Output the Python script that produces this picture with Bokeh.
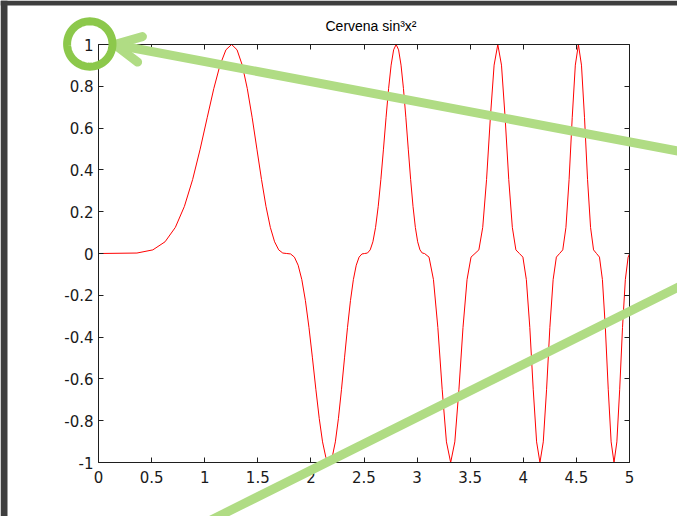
import math
from bokeh.plotting import figure
from bokeh.models import (Range1d, LinearAxis, FixedTicker, Arrow, OpenHead,
                          PolyAnnotation, BoxAnnotation, Label)
from bokeh.embed import file_html
from bokeh.resources import INLINE

# ---- data (curve "Cervena sin^3 x^2") ----
x_vals = [0, 0.3618, 0.5117, 0.6267, 0.7236, 0.8090, 0.8862, 0.9572, 1.0233, 1.0854,
          1.1441, 1.2000, 1.2533, 1.3045, 1.3537, 1.4012, 1.4472, 1.4917, 1.5350, 1.5770,
          1.6180, 1.6580, 1.6970, 1.7351, 1.7725, 1.8090, 1.8448, 1.8800, 1.9145, 1.9483,
          1.9817, 2.0144, 2.0466, 2.0784, 2.1096, 2.1404, 2.1708, 2.2007, 2.2303, 2.2594,
          2.2882, 2.3166, 2.3447, 2.3725, 2.3999, 2.4270, 2.4538, 2.4804, 2.5066, 2.5326,
          2.5583, 2.5838, 2.6090, 2.6339, 2.6587, 2.6832, 2.7075, 2.7315, 2.7554, 2.7790,
          2.8025, 2.8257, 2.8488, 2.8717, 2.8944, 2.9169, 2.9393, 2.9615, 2.9835, 3.0053,
          3.0270, 3.0486, 3.0700,
          3.1123, 3.1541, 3.1953, 3.2360, 3.2762, 3.3160, 3.3552, 3.3940, 3.4323, 3.4703,
          3.5078, 3.5449, 3.5816, 3.6180, 3.6540, 3.6897, 3.7250, 3.7599, 3.7946, 3.8289,
          3.8630, 3.8967, 3.9302, 3.9633, 3.9962, 4.0288, 4.0612, 4.0933, 4.1252, 4.1568,
          4.1881, 4.2193, 4.2502, 4.2809, 4.3114, 4.3416, 4.3717, 4.4015, 4.4311, 4.4606,
          4.4898, 4.5189, 4.5478, 4.5765, 4.6050, 4.6333, 4.6615, 4.6895, 4.7173, 4.7450,
          4.7725, 4.7998, 4.8270, 4.8541, 4.8810, 4.9077, 4.9343, 4.9608, 4.9871, 5.0]

y_vals = [0, 0.0022, 0.0173, 0.0560, 0.125, 0.2256, 0.3536, 0.4993, 0.6495, 0.7886,
          0.9012, 0.9746, 1, 0.9746, 0.9012, 0.7886, 0.6495, 0.4993, 0.3536, 0.2256,
          0.125, 0.0560, 0.0173, 0.0022,
          0, -0.0022, -0.0173, -0.0560, -0.125, -0.2256, -0.3536, -0.4993, -0.6495, -0.7886,
          -0.9012, -0.9746, -1, -0.9746, -0.9012, -0.7886, -0.6495, -0.4993, -0.3536, -0.2256,
          -0.125, -0.0560, -0.0173, -0.0022,
          0, 0.0022, 0.0173, 0.0560, 0.125, 0.2256, 0.3536, 0.4993, 0.6495, 0.7886,
          0.9012, 0.9746, 1, 0.9746, 0.9012, 0.7886, 0.6495, 0.4993, 0.3536, 0.2256,
          0.125, 0.0560, 0.0173, 0.0022,
          0,
          -0.0173, -0.125, -0.3536, -0.6495, -0.9012, -1, -0.9012, -0.6495, -0.3536, -0.125,
          -0.0173,
          0, 0.0173, 0.125, 0.3536, 0.6495, 0.9012, 1, 0.9012, 0.6495, 0.3536, 0.125, 0.0173,
          0, -0.0173, -0.125, -0.3536, -0.6495, -0.9012, -1, -0.9012, -0.6495, -0.3536, -0.125,
          -0.0173,
          0, 0.0173, 0.125, 0.3536, 0.6495, 0.9012, 1, 0.9012, 0.6495, 0.3536, 0.125, 0.0173,
          0, -0.0173, -0.125, -0.3536, -0.6495, -0.9012, -1, -0.9012, -0.6495, -0.3536, -0.125,
          -0.0173,
          -0.0023]

x_ticks = [0, 0.5, 1, 1.5, 2, 2.5, 3, 3.5, 4, 4.5, 5]
x_labels = ["0", "0.5", "1", "1.5", "2", "2.5", "3", "3.5", "4", "4.5", "5"]
y_ticks = [-1, -0.8, -0.6, -0.4, -0.2, 0, 0.2, 0.4, 0.6, 0.8, 1]
y_labels = ["-1", "-0.8", "-0.6", "-0.4", "-0.2", "0", "0.2", "0.4", "0.6", "0.8", "1"]
x_min, x_max = 0, 5
y_min, y_max = -1, 1
title_text = "Cervena sin\u00b3x\u00b2"

# ---- layout: the frame fills the whole canvas so overlays can reach every edge;
#      the axes box (data 0..5 x -1..1) sits at these canvas pixels ----
W, H = 677, 516
BOX_L, BOX_R, BOX_T, BOX_B = 98, 629, 44, 462
sx = (x_max - x_min) / (BOX_R - BOX_L)
sy = (y_max - y_min) / (BOX_B - BOX_T)
xr = Range1d(x_min - BOX_L * sx, x_max + (W - BOX_R) * sx)
yr = Range1d(y_min - (H - BOX_B) * sy, y_max + BOX_T * sy)

FONT = "DejaVu Sans"
AX = "#1e1e1e"

p = figure(width=W, height=H, output_backend="svg", toolbar_location=None,
           x_range=xr, y_range=yr, title=None,
           x_axis_location=None, y_axis_location=None,
           min_border=0, min_border_left=0, min_border_right=0,
           min_border_top=0, min_border_bottom=0,
           background_fill_color="white", border_fill_color="white")
p.grid.visible = False
p.outline_line_color = None

def style_axis(ax, ticks, labels, show, standoff=6):
    ax.ticker = FixedTicker(ticks=ticks)
    ax.major_tick_in = 5
    ax.major_tick_out = 0
    ax.minor_tick_line_color = None
    ax.axis_line_color = AX
    ax.major_tick_line_color = AX
    ax.major_label_text_font = FONT
    ax.major_label_text_color = "#1a1a1a"
    if show:
        ax.major_label_overrides = {t: l for t, l in zip(ticks, labels)}
        ax.major_label_text_font_size = "15px"
        ax.major_label_standoff = standoff
    else:
        ax.major_label_overrides = {t: "" for t in ticks}
        ax.major_label_text_font_size = "1px"
        ax.major_label_standoff = 0

bottom = LinearAxis(fixed_location=y_min, bounds=(x_min, x_max))
style_axis(bottom, x_ticks, x_labels, True, 8)
top = LinearAxis(fixed_location=y_max, bounds=(x_min, x_max))
style_axis(top, x_ticks, x_labels, False)
left = LinearAxis(fixed_location=x_min, bounds=(y_min, y_max))
style_axis(left, y_ticks, y_labels, True, 5)
right = LinearAxis(fixed_location=x_max, bounds=(y_min, y_max))
style_axis(right, y_ticks, y_labels, False)
p.add_layout(bottom, "below")
p.add_layout(top, "above")
p.add_layout(left, "left")
p.add_layout(right, "right")

p.line(x_vals, y_vals, line_color="#ff0000", line_width=1)

# title, centred over the axes box
p.add_layout(Label(x=(x_min + x_max) / 2, y=25, x_units="data", y_units="canvas",
                   x_offset=7, text=title_text, text_align="center",
                   text_baseline="alphabetic", text_font="Liberation Sans",
                   text_font_size="14px", text_color="black"))

# ---- dark window edge and green annotation overlay (canvas pixels) ----
DARK = "#3e3e3e"
for l, r, t, b in [(0, W, 0, 5), (0, 7, 0, H)]:
    p.add_layout(BoxAnnotation(left=l, right=r, top=t, bottom=b, left_units="canvas",
                               right_units="canvas", top_units="canvas",
                               bottom_units="canvas", fill_color=DARK, fill_alpha=1,
                               line_color=None, level="overlay"))

LIGHT = "#b0dc84"
RING = "#8cc84b"

p.add_layout(Arrow(x_start=700, y_start=154.8, x_end=114, y_end=44,
                   start_units="canvas", end_units="canvas",
                   line_color=LIGHT, line_width=9, line_cap="round",
                   end=OpenHead(size=26, line_color=LIGHT, line_width=9, line_cap="round",
                                line_join="round"),
                   level="overlay"))

p.add_layout(Arrow(x_start=201, y_start=524.3, x_end=700, y_end=275.5,
                   start_units="canvas", end_units="canvas", end=None,
                   line_color=LIGHT, line_width=9, level="overlay"))

ring_x = [89.3 + 22.7 * math.cos(2 * math.pi * i / 72) for i in range(72)]
ring_y = [43.5 + 22.7 * math.sin(2 * math.pi * i / 72) for i in range(72)]
p.add_layout(PolyAnnotation(xs=ring_x, ys=ring_y, xs_units="canvas", ys_units="canvas",
                            fill_color=None, fill_alpha=0, line_color=RING, line_width=8,
                            line_alpha=1, level="overlay"))

open("out.html", "w").write(file_html(p, INLINE))
